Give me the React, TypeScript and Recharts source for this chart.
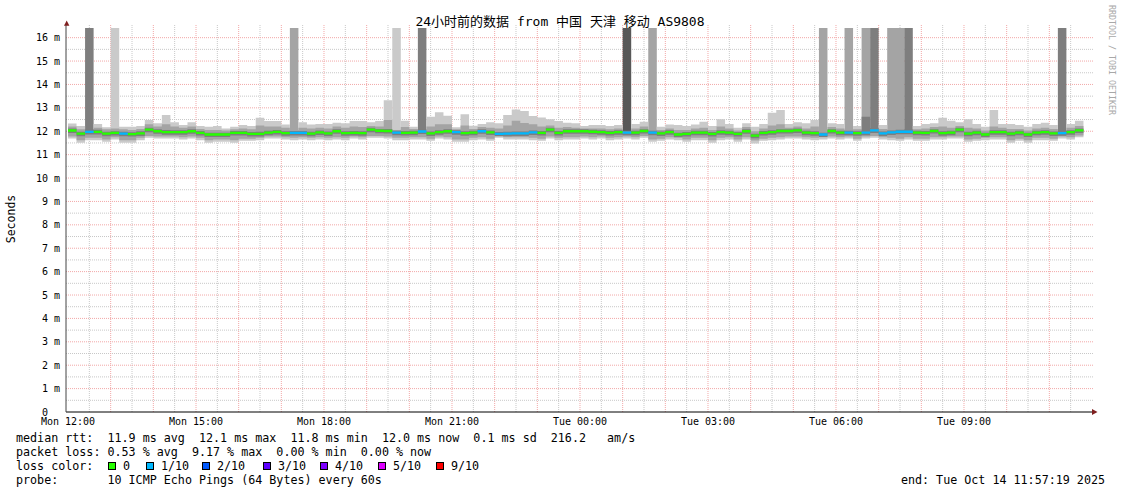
import React from 'react';
import { ComposedChart, Area, XAxis, YAxis, CartesianGrid, ReferenceDot } from 'recharts';

// ---------- text ----------
const TITLE = '24小时前的数据 from 中国 天津 移动 AS9808';
const Y_LABEL = 'Seconds';
const WATERMARK = 'RRDTOOL / TOBI OETIKER';
const LEGEND_RTT = 'median rtt:  11.9 ms avg  12.1 ms max  11.8 ms min  12.0 ms now  0.1 ms sd  216.2   am/s';
const LEGEND_LOSS = 'packet loss: 0.53 % avg  9.17 % max  0.00 % min  0.00 % now';
const LEGEND_COLOR = 'loss color:';
const LEGEND_PROBE = 'probe:       10 ICMP Echo Pings (64 Bytes) every 60s';
const END_TEXT = 'end: Tue Oct 14 11:57:19 2025';

// ---------- axes ----------
const X_MIN = -0.0469;
const X_MAX = 24.047;
const Y_MAX = 16.541;
const STEP_HOURS = 0.2; // one bar = 12 minutes
const SPIKE_TOP = 16.41;
const MEDIAN_HALF = 0.05;

const xTickHours = [0, 3, 6, 9, 12, 15, 18, 21];
const xTickLabels = ['Mon 12:00', 'Mon 15:00', 'Mon 18:00', 'Mon 21:00', 'Tue 00:00', 'Tue 03:00', 'Tue 06:00', 'Tue 09:00'];
const yTicks = [0, 1, 2, 3, 4, 5, 6, 7, 8, 9, 10, 11, 12, 13, 14, 15, 16];
const majorMs = [1, 2, 3, 4, 5, 6, 7, 8, 9, 10, 11, 12, 13, 14, 15, 16];
const minorMs = [0.5, 1.5, 2.5, 3.5, 4.5, 5.5, 6.5, 7.5, 8.5, 9.5, 10.5, 11.5, 12.5, 13.5, 14.5, 15.5];
const majorHours = [1, 2, 3, 4, 5, 6, 7, 8, 9, 10, 11, 12, 13, 14, 15, 16, 17, 18, 19, 20, 21, 22, 23];
const minorHours = [0.5, 1.5, 2.5, 3.5, 4.5, 5.5, 6.5, 7.5, 8.5, 9.5, 10.5, 11.5, 12.5, 13.5, 14.5, 15.5, 16.5, 17.5, 18.5, 19.5, 20.5, 21.5, 22.5, 23.5];

// ---------- loss legend ----------
const lossColors = ['#26ff00', '#00b8ff', '#0059ff', '#5e00ff', '#7e00ff', '#dd00ff', '#ff0000'];
const lossLabels = ['0', '1/10', '2/10', '3/10', '4/10', '5/10', '9/10'];
const lossLegendX = [108, 146, 202, 263, 320, 378, 436];

// ---------- series (ms) ----------
const medianMs = [
  12.03, 11.90, 11.97, 11.97, 11.90, 11.93, 11.90, 11.88, 11.91, 12.07,
  12.00, 11.96, 11.96, 11.96, 12.00, 11.93, 11.86, 11.86, 11.86, 11.93,
  11.93, 11.89, 11.89, 11.94, 11.97, 11.92, 11.93, 11.93, 11.90, 11.95,
  11.91, 12.00, 11.92, 11.93, 11.92, 12.07, 12.02, 12.01, 11.94, 11.93,
  11.94, 11.99, 11.91, 11.96, 12.00, 11.96, 11.92, 11.94, 12.00, 11.95,
  11.89, 11.90, 11.91, 11.91, 11.95, 11.93, 12.07, 11.93, 12.00, 12.00,
  12.00, 11.98, 11.96, 11.93, 11.96, 11.94, 11.94, 12.01, 11.94, 11.91,
  11.96, 11.86, 11.89, 11.94, 11.94, 11.89, 11.96, 11.94, 11.89, 12.00,
  11.81, 11.93, 11.96, 12.01, 12.01, 12.04, 11.94, 11.92, 11.86, 12.01,
  11.94, 11.94, 11.92, 11.94, 12.04, 11.91, 11.95, 11.98, 11.98, 11.94,
  11.93, 12.01, 11.92, 11.94, 12.07, 11.90, 11.94, 11.86, 11.96, 11.96,
  11.90, 11.94, 11.86, 11.94, 11.96, 11.91, 11.92, 11.96, 12.04,
];

const lossLevel = [
  0, 0, 1, 0, 0, 0, 1, 0, 0, 0,
  0, 0, 0, 0, 0, 0, 0, 0, 0, 0,
  0, 0, 0, 0, 0, 0, 1, 1, 0, 0,
  0, 0, 0, 0, 0, 0, 0, 0, 1, 0,
  0, 1, 0, 0, 0, 1, 0, 0, 1, 0,
  1, 1, 1, 1, 1, 0, 0, 0, 0, 0,
  0, 0, 0, 0, 0, 1, 0, 0, 1, 0,
  0, 0, 0, 0, 0, 0, 0, 0, 0, 0,
  0, 0, 0, 0, 0, 0, 0, 0, 1, 0,
  0, 1, 0, 1, 1, 1, 1, 1, 1, 0,
  0, 0, 0, 0, 0, 0, 0, 0, 0, 0,
  0, 0, 0, 0, 0, 0, 1, 0, 0,
];

// smoke layer that reaches the top of the graph (0 none, 1 outer ... 4 inner)
const spikeLevel = [
  0, 0, 3, 0, 0, 1, 0, 0, 0, 0,
  0, 0, 0, 0, 0, 0, 0, 0, 0, 0,
  0, 0, 0, 0, 0, 0, 2, 0, 0, 0,
  0, 0, 0, 0, 0, 0, 0, 0, 1, 0,
  0, 3, 0, 0, 0, 0, 0, 0, 0, 0,
  0, 0, 0, 0, 0, 0, 0, 0, 0, 0,
  0, 0, 0, 0, 0, 4, 0, 0, 2, 0,
  0, 0, 0, 0, 0, 0, 0, 0, 0, 0,
  0, 0, 0, 0, 0, 0, 0, 0, 2, 0,
  0, 2, 0, 2, 3, 0, 2, 2, 3, 0,
  0, 0, 0, 0, 0, 0, 0, 0, 0, 0,
  0, 0, 0, 0, 0, 0, 3, 0, 0,
];

const smokeHi = [
  12.33, 12.22, 11.97, 12.31, 12.17, 12.20, 12.19, 12.19, 12.22, 12.48,
  12.34, 12.69, 12.38, 12.27, 12.38, 12.22, 12.19, 12.22, 12.12, 12.19,
  12.27, 12.22, 12.58, 12.44, 12.44, 12.29, 11.93, 12.38, 12.29, 12.31,
  12.31, 12.36, 12.34, 12.44, 12.44, 12.38, 12.44, 13.33, 12.10, 12.45,
  12.19, 11.99, 12.62, 12.81, 12.66, 12.17, 12.73, 12.24, 12.31, 12.38,
  12.34, 12.69, 12.93, 12.86, 12.65, 12.59, 12.51, 12.44, 12.36, 12.34,
  12.22, 12.27, 12.27, 12.22, 12.27, 11.94, 12.31, 12.41, 11.94, 12.19,
  12.29, 12.27, 12.22, 12.29, 12.41, 12.22, 12.51, 12.31, 12.15, 12.34,
  12.19, 12.31, 12.79, 12.91, 12.31, 12.38, 12.34, 12.48, 11.86, 12.34,
  12.31, 11.94, 12.22, 11.94, 12.04, 12.27, 11.95, 11.98, 11.98, 12.22,
  12.31, 12.34, 12.58, 12.45, 12.38, 12.51, 12.31, 12.19, 12.91, 12.31,
  12.31, 12.27, 12.19, 12.31, 12.36, 12.27, 11.92, 12.31, 12.45,
];

const smokeLo = [
  11.69, 11.51, 11.62, 11.62, 11.55, 11.65, 11.51, 11.51, 11.62, 11.72,
  11.69, 11.69, 11.69, 11.65, 11.69, 11.62, 11.51, 11.55, 11.55, 11.51,
  11.59, 11.59, 11.62, 11.69, 11.69, 11.65, 11.62, 11.65, 11.62, 11.65,
  11.62, 11.65, 11.62, 11.69, 11.65, 11.72, 11.72, 11.69, 11.62, 11.62,
  11.65, 11.65, 11.59, 11.69, 11.65, 11.55, 11.55, 11.62, 11.65, 11.59,
  11.72, 11.65, 11.65, 11.65, 11.62, 11.59, 11.69, 11.62, 11.65, 11.65,
  11.69, 11.65, 11.69, 11.62, 11.65, 11.69, 11.65, 11.72, 11.55, 11.59,
  11.65, 11.62, 11.55, 11.62, 11.62, 11.51, 11.62, 11.65, 11.55, 11.65,
  11.48, 11.59, 11.62, 11.65, 11.69, 11.69, 11.65, 11.62, 11.65, 11.69,
  11.65, 11.69, 11.59, 11.69, 11.72, 11.65, 11.62, 11.59, 11.65, 11.59,
  11.59, 11.65, 11.65, 11.69, 11.69, 11.55, 11.59, 11.62, 11.65, 11.65,
  11.51, 11.59, 11.51, 11.62, 11.62, 11.59, 11.69, 11.65, 11.74,
];

const midHi = [
  12.20, 12.08, 11.97, 12.15, 12.08, 12.12, 12.08, 12.05, 12.10, 12.30,
  12.20, 12.30, 12.20, 12.15, 12.20, 12.10, 12.05, 12.05, 12.03, 12.08,
  12.12, 12.08, 12.25, 12.20, 12.20, 12.15, 12.05, 12.15, 12.12, 12.15,
  12.12, 12.20, 12.15, 12.20, 12.18, 12.22, 12.20, 12.48, 12.05, 12.18,
  12.10, 11.99, 12.20, 12.30, 12.30, 12.08, 12.25, 12.10, 12.18, 12.15,
  12.12, 12.25, 12.45, 12.35, 12.30, 12.20, 12.25, 12.15, 12.18, 12.15,
  12.12, 12.12, 12.12, 12.08, 12.12, 11.94, 12.12, 12.20, 12.06, 12.05,
  12.12, 12.05, 12.05, 12.12, 12.15, 12.05, 12.20, 12.12, 12.03, 12.18,
  12.00, 12.12, 12.25, 12.30, 12.15, 12.20, 12.12, 12.20, 11.98, 12.18,
  12.12, 12.06, 12.08, 12.06, 12.04, 12.10, 12.07, 12.10, 11.98, 12.08,
  12.12, 12.18, 12.20, 12.15, 12.22, 12.15, 12.12, 12.03, 12.20, 12.15,
  12.10, 12.10, 12.03, 12.12, 12.15, 12.10, 11.92, 12.15, 12.22,
];

const midLo = [
  11.78, 11.62, 11.72, 11.72, 11.65, 11.74, 11.62, 11.62, 11.72, 11.80,
  11.78, 11.78, 11.78, 11.74, 11.78, 11.72, 11.62, 11.65, 11.65, 11.62,
  11.68, 11.68, 11.72, 11.78, 11.78, 11.74, 11.72, 11.74, 11.72, 11.74,
  11.72, 11.74, 11.72, 11.78, 11.74, 11.80, 11.80, 11.78, 11.72, 11.72,
  11.74, 11.74, 11.68, 11.78, 11.74, 11.65, 11.65, 11.72, 11.74, 11.68,
  11.78, 11.74, 11.74, 11.74, 11.72, 11.68, 11.78, 11.72, 11.74, 11.74,
  11.78, 11.74, 11.78, 11.72, 11.74, 11.78, 11.74, 11.80, 11.65, 11.68,
  11.74, 11.72, 11.65, 11.72, 11.72, 11.62, 11.72, 11.74, 11.65, 11.74,
  11.60, 11.68, 11.72, 11.74, 11.78, 11.78, 11.74, 11.72, 11.74, 11.78,
  11.74, 11.78, 11.68, 11.78, 11.80, 11.74, 11.72, 11.68, 11.74, 11.68,
  11.68, 11.74, 11.74, 11.78, 11.78, 11.65, 11.68, 11.72, 11.74, 11.74,
  11.62, 11.68, 11.62, 11.72, 11.72, 11.68, 11.78, 11.74, 11.82,
];

const darkHi = [
  12.12, 11.98, 12.08, 12.06, 11.98, 12.00, 11.98, 11.96, 12.00, 12.15,
  12.08, 12.05, 12.04, 12.04, 12.08, 12.01, 11.94, 11.94, 11.94, 12.01,
  12.01, 11.97, 11.98, 12.02, 12.05, 12.00, 12.01, 12.01, 11.98, 12.03,
  11.99, 12.08, 12.00, 12.01, 12.00, 12.15, 12.10, 12.10, 12.02, 12.01,
  12.02, 12.09, 11.99, 12.04, 12.08, 12.04, 12.00, 12.02, 12.08, 12.03,
  11.97, 11.98, 11.99, 11.99, 12.03, 12.01, 12.15, 12.01, 12.08, 12.08,
  12.08, 12.06, 12.04, 12.01, 12.04, 12.02, 12.02, 12.09, 12.02, 11.99,
  12.04, 11.94, 11.97, 12.02, 12.02, 11.97, 12.04, 12.02, 11.97, 12.08,
  11.89, 12.01, 12.04, 12.09, 12.09, 12.12, 12.02, 12.00, 11.94, 12.09,
  12.02, 12.02, 12.00, 12.62, 12.14, 11.99, 12.03, 12.06, 12.08, 12.02,
  12.01, 12.09, 12.00, 12.02, 12.15, 11.98, 12.02, 11.94, 12.04, 12.04,
  11.98, 12.02, 11.94, 12.02, 12.04, 11.99, 12.02, 12.04, 12.12,
];

const darkLo = [
  11.92, 11.79, 11.86, 11.86, 11.79, 11.82, 11.79, 11.77, 11.80, 11.96,
  11.89, 11.85, 11.85, 11.85, 11.89, 11.82, 11.75, 11.75, 11.75, 11.82,
  11.82, 11.78, 11.78, 11.83, 11.86, 11.81, 11.82, 11.82, 11.79, 11.84,
  11.80, 11.89, 11.81, 11.82, 11.81, 11.96, 11.91, 11.90, 11.83, 11.82,
  11.83, 11.88, 11.80, 11.85, 11.89, 11.85, 11.81, 11.83, 11.89, 11.84,
  11.80, 11.79, 11.80, 11.80, 11.84, 11.82, 11.96, 11.82, 11.89, 11.89,
  11.89, 11.87, 11.85, 11.82, 11.85, 11.83, 11.83, 11.90, 11.83, 11.80,
  11.85, 11.75, 11.78, 11.83, 11.83, 11.78, 11.85, 11.83, 11.78, 11.89,
  11.70, 11.82, 11.85, 11.90, 11.90, 11.93, 11.83, 11.81, 11.75, 11.90,
  11.83, 11.83, 11.81, 11.83, 11.93, 11.80, 11.84, 11.87, 11.87, 11.83,
  11.82, 11.90, 11.81, 11.83, 11.96, 11.79, 11.83, 11.75, 11.85, 11.85,
  11.79, 11.83, 11.75, 11.83, 11.85, 11.80, 11.81, 11.85, 11.93,
];

// ---------- styling ----------
const W = 1121;
const H = 494;
const MONO = '"DejaVu Sans Mono", "Noto Sans CJK SC", monospace';
const SMOKE = ['#cacaca', '#a4a4a4', '#7e7e7e', '#585858'];
const ARROW = '#7f1f1f';

const rows: any[] = medianMs.map((m, k) => {
  const r: any = {
    t: k * STEP_HOURS,
    light: [smokeLo[k], smokeHi[k]],
    mid: [midLo[k], midHi[k]],
    dark: [darkLo[k], darkHi[k]],
  };
  for (let s = 1; s <= 4; s++) {
    r['spike' + s] = spikeLevel[k] === s ? [m, SPIKE_TOP] : [SPIKE_TOP, SPIKE_TOP];
  }
  for (let l = 0; l < 2; l++) {
    r['loss' + l] = lossLevel[k] === l ? [m - MEDIAN_HALF, m + MEDIAN_HALF] : [m, m];
  }
  return r;
});
rows.push({ ...rows[rows.length - 1], t: medianMs.length * STEP_HOURS });

const XTick = (props: any) => {
  const { x, y, payload } = props;
  const i = xTickHours.indexOf(payload.value);
  return (
    <text x={x} y={y + 4.5} textAnchor="middle" fontSize={10} fontFamily={MONO} fill="#000" stroke="none">
      {i >= 0 ? xTickLabels[i] : ''}
    </text>
  );
};

const YTick = (props: any) => {
  const { x, y, payload } = props;
  const v = payload.value;
  const label = v === 0 ? '0' : `${v} m`;
  return (
    <text x={v === 0 ? x - 12 : x} y={y} dy="0.36em" textAnchor="end" fontSize={10} fontFamily={MONO} fill="#000" stroke="none">
      {label}
    </text>
  );
};

const XArrow = (p: any) => (
  <polygon points={`${p.cx - 2},${p.cy - 3} ${p.cx + 3.5},${p.cy} ${p.cx - 2},${p.cy + 3}`} fill={ARROW} />
);
const YArrow = (p: any) => (
  <polygon points={`${p.cx - 2},${p.cy + 0.7} ${p.cx + 0.7},${p.cy - 4.5} ${p.cx + 3.4},${p.cy + 0.7}`} fill={ARROW} />
);

const areaProps = {
  type: 'stepAfter' as const,
  stroke: 'none',
  fillOpacity: 1,
  isAnimationActive: false,
  dot: false,
  activeDot: false,
};

const pre = { whiteSpace: 'pre' as const };

export default function App() {
  return (
    <div style={{ position: 'absolute', left: 0, top: 0, width: W, height: H, background: '#fff' }}>
      <ComposedChart width={W} height={H} data={rows} margin={{ top: 25, right: 27, bottom: 62, left: 0 }}>
        <CartesianGrid horizontalValues={minorMs} verticalValues={minorHours} stroke="#c8c8c8" strokeDasharray="1 1" />
        <CartesianGrid horizontalValues={majorMs} verticalValues={majorHours} stroke="#f2a8a8" strokeDasharray="1 1" />
        <XAxis
          dataKey="t"
          type="number"
          domain={[X_MIN, X_MAX]}
          allowDataOverflow
          ticks={xTickHours}
          tick={<XTick />}
          tickLine={false}
          stroke="#000"
          axisLine={{ stroke: '#000', strokeWidth: 1 }}
          height={20}
          interval={0}
        />
        <YAxis
          type="number"
          domain={[0, Y_MAX]}
          allowDataOverflow
          ticks={yTicks}
          tick={<YTick />}
          tickLine={false}
          tickSize={4}
          tickMargin={2}
          stroke="#000"
          axisLine={{ stroke: '#444', strokeWidth: 1 }}
          width={66}
          interval={0}
        />
        <Area dataKey="spike1" fill={SMOKE[0]} {...areaProps} />
        <Area dataKey="spike2" fill={SMOKE[1]} {...areaProps} />
        <Area dataKey="spike3" fill={SMOKE[2]} {...areaProps} />
        <Area dataKey="spike4" fill={SMOKE[3]} {...areaProps} />
        <Area dataKey="light" fill={SMOKE[0]} {...areaProps} />
        <Area dataKey="mid" fill={SMOKE[1]} {...areaProps} />
        <Area dataKey="dark" fill={SMOKE[2]} {...areaProps} />
        <Area dataKey="loss0" fill={lossColors[0]} {...areaProps} />
        <Area dataKey="loss1" fill={lossColors[1]} {...areaProps} />
        <ReferenceDot x={X_MAX} y={0} r={0} ifOverflow="visible" shape={XArrow} />
        <ReferenceDot x={X_MIN} y={Y_MAX} r={0} ifOverflow="visible" shape={YArrow} />
      </ComposedChart>
      <svg width={W} height={H} style={{ position: 'absolute', left: 0, top: 0, pointerEvents: 'none' }}>
        <text x={560} y={26} textAnchor="middle" fontSize={13} fontFamily={MONO} fill="#000" xmlSpace="preserve" style={pre}>
          {TITLE}
        </text>
        <text x={15} y={219} transform="rotate(-90 15 219)" textAnchor="middle" fontSize={11.5} fontFamily={MONO} fill="#000">
          {Y_LABEL}
        </text>
        <text x={1109} y={5} transform="rotate(90 1109 5)" textAnchor="start" fontSize={8.3} fontFamily={MONO} fill="#a8a8a8" xmlSpace="preserve" style={pre}>
          {WATERMARK}
        </text>
        <g fontFamily={MONO} fontSize={11.7} fill="#000">
          <text x={16} y={442} xmlSpace="preserve" style={pre}>{LEGEND_RTT}</text>
          <text x={16} y={456} xmlSpace="preserve" style={pre}>{LEGEND_LOSS}</text>
          <text x={16} y={470} xmlSpace="preserve" style={pre}>{LEGEND_COLOR}</text>
          <text x={16} y={484} xmlSpace="preserve" style={pre}>{LEGEND_PROBE}</text>
          <text x={1105} y={484} textAnchor="end" xmlSpace="preserve" style={pre}>{END_TEXT}</text>
          {lossColors.map((c, i) => (
            <g key={c}>
              <rect x={lossLegendX[i] + 0.5} y={462.5} width={7} height={7} fill={c} stroke="#000" strokeWidth={1} />
              <text x={lossLegendX[i] + 15} y={470}>{lossLabels[i]}</text>
            </g>
          ))}
        </g>
      </svg>
    </div>
  );
}
